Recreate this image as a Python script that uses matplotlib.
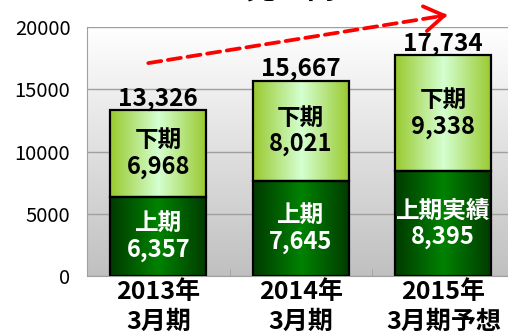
import numpy as np
import matplotlib
matplotlib.use("Agg")
import matplotlib.pyplot as plt
from matplotlib.colors import LinearSegmentedColormap

plt.rcParams["font.family"] = ["Noto Sans CJK JP", "DejaVu Sans"]

# 売上高（百万円）
periods = ["2013年\n3月期", "2014年\n3月期", "2015年\n3月期予想"]
first_half = [6357, 7645, 8395]
second_half = [6968, 8021, 9338]
totals = [13326, 15667, 17734]
first_names = ["上期", "上期", "上期実績"]
second_names = ["下期", "下期", "下期"]
yticks = [0, 5000, 10000, 15000, 20000]

fig = plt.figure(figsize=(5.08, 3.34), dpi=100)
ax = fig.add_axes([87 / 508, 58 / 334, 427.5 / 508, 249 / 334])

x = np.arange(len(periods))
width = 0.674

# plot area: white at the top fading to grey at the bottom
bg_cmap = LinearSegmentedColormap.from_list("bg", ["#ffffff", "#c0c0c0"])
ax.imshow(np.linspace(0, 1, 256).reshape(-1, 1), cmap=bg_cmap,
          extent=[-0.5, 2.5, 0, 20000], aspect="auto", zorder=0)

dark_cmap = LinearSegmentedColormap.from_list("dark", ["#003a00", "#008200"])
light_cmap = LinearSegmentedColormap.from_list("light", ["#99c92e", "#d4ffd0"])


def gradient_bars(bottom, height, cmap):
    bars = ax.bar(x, height, width, bottom=bottom, facecolor="none",
                  edgecolor="black", linewidth=1.6, zorder=3)
    ramp = 1 - np.abs(np.linspace(-1, 1, 256))
    for b in bars:
        x0, y0 = b.get_x(), b.get_y()
        im = ax.imshow(ramp.reshape(1, -1), cmap=cmap, aspect="auto",
                       extent=[x0, x0 + b.get_width(), y0, y0 + b.get_height()],
                       interpolation="bilinear", zorder=2)
        im.set_clip_path(b)
    return bars


gradient_bars(0, first_half, dark_cmap)
gradient_bars(first_half, second_half, light_cmap)

for i in range(len(periods)):
    ax.text(x[i], first_half[i] / 2, f"{first_names[i]}\n{first_half[i]:,}",
            ha="center", va="center", color="white", fontsize=17,
            fontweight="bold", linespacing=1.12, zorder=4)
    ax.text(x[i], first_half[i] + second_half[i] / 2,
            f"{second_names[i]}\n{second_half[i]:,}",
            ha="center", va="center", color="black", fontsize=17,
            fontweight="bold", linespacing=1.12, zorder=4)
    ax.annotate(f"{totals[i]:,}", (x[i], totals[i]), xytext=(0, 3.5),
                textcoords="offset points", ha="center", va="baseline",
                fontsize=17.5, fontweight="bold", zorder=4)

# growth arrow
start = np.array([-0.07, 17100])
tip = np.array([2.03, 20960])
ax.annotate("", xy=tip, xytext=start, annotation_clip=False,
            arrowprops=dict(arrowstyle="-", color="#ff0000", lw=2.7,
                            linestyle=(0, (3.5, 1.8)), shrinkA=0, shrinkB=2))
ax.annotate("", xy=tip, xytext=start + 0.97 * (tip - start), annotation_clip=False,
            arrowprops=dict(arrowstyle="->,head_length=0.7,head_width=0.45",
                            color="#ff0000", lw=2.7, shrinkA=0, shrinkB=0,
                            mutation_scale=20))

ax.set_xlim(-0.5, 2.5)
ax.set_ylim(0, 20000)
ax.set_yticks(yticks)
ax.set_yticklabels([str(v) for v in yticks], fontsize=14.5)
ax.set_xticks(x)
ax.set_xticklabels(periods, fontsize=18, fontweight="bold", linespacing=1.3)
ax.set_xticks([0.5, 1.5], minor=True)
ax.tick_params(axis="y", length=0, pad=12)
ax.tick_params(axis="x", which="major", length=0, pad=3)
ax.tick_params(axis="x", which="minor", direction="in", length=5,
               color="#a0a0a0")

ax.yaxis.grid(True, color="#a0a0a0", linewidth=1)
ax.set_axisbelow(True)
for side in ["top", "right"]:
    ax.spines[side].set_visible(False)
for side in ["left", "bottom"]:
    ax.spines[side].set_color("#a0a0a0")

fig.text(291 / 508, 1 + 1 / 334, "売上高", ha="center", va="baseline",
         fontsize=22, fontweight="bold")

fig.savefig("out.png", dpi=100)
